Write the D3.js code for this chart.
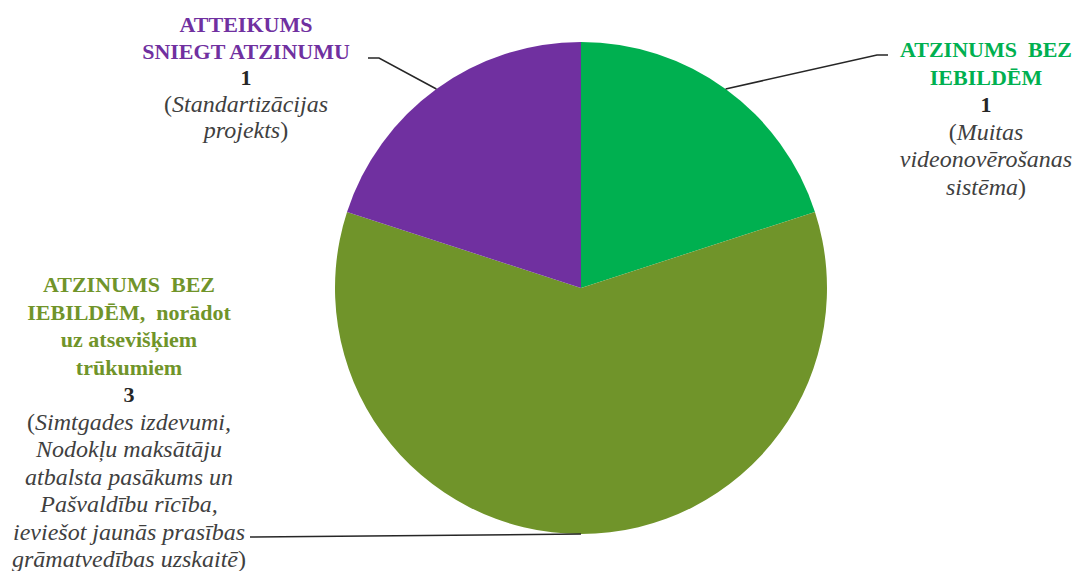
<!DOCTYPE html>
<html>
<head>
<meta charset="utf-8">
<script src="https://cdn.jsdelivr.net/npm/d3@7"></script>
</head>
<body style="margin:0">
<svg width="1077" height="571"></svg>
<script>
// categories, values and label text
var categories = ["ATZINUMS BEZ IEBILDĒM", "ATZINUMS BEZ IEBILDĒM, norādot uz atsevišķiem trūkumiem", "ATTEIKUMS SNIEGT ATZINUMU"];
var values = [1, 3, 1];
var titleLines = [
  ["ATZINUMS\u00a0 BEZ", "IEBILDĒM"],
  ["ATZINUMS\u00a0 BEZ", "IEBILDĒM,\u00a0 norādot", "uz atsevišķiem", "trūkumiem"],
  ["ATTEIKUMS", "SNIEGT ATZINUMU"]
];
var detailLines = [
  ["(Muitas", "videonovērošanas", "sistēma)"],
  ["(Simtgades izdevumi,", "Nodokļu maksātāju", "atbalsta pasākums un", "Pašvaldību rīcība,", "ieviešot jaunās prasības", "grāmatvedības uzskaitē)"],
  ["(Standartizācijas", "projekts)"]
];
var colors = ["#00b050", "#70942a", "#7030a0"];

var svg = d3.select("svg").style("font-family", "'Liberation Serif'");
var cx = 581, cy = 288, radius = 246;

var pie = d3.pie().sort(null).value(function(d) { return d; });
var arc = d3.arc().innerRadius(0).outerRadius(radius);
var arcs = pie(values);

var g = svg.append("g").attr("transform", "translate(" + cx + "," + cy + ")");

g.selectAll("path")
  .data(arcs)
  .enter().append("path")
    .attr("d", arc)
    .attr("fill", function(d, i) { return colors[i]; });

// label layout: text centre x, first baseline y, leader elbow points
var labelPos = [
  { x: 986, y: 57, lh: 27.6, elbow: [[888, 55], [877, 55]] },
  { x: 129, y: 292, lh: 27.5, elbow: [[250, 537]] },
  { x: 246, y: 32, lh: 26.6, elbow: [[368, 58], [379, 58]] }
];

function midAngle(d) { return (d.startAngle + d.endAngle) / 2; }

arcs.forEach(function(d, i) {
  var a = midAngle(d);
  var px = cx + radius * Math.sin(a);
  var py = cy - radius * Math.cos(a);
  var pts = labelPos[i].elbow.concat([[px, py]]);
  svg.append("path")
    .attr("d", d3.line()(pts))
    .attr("fill", "none")
    .attr("stroke", "#262626")
    .attr("stroke-width", 1.5);
});

function addLine(p, y, size) {
  return svg.append("text")
    .style("font-family", "'Liberation Serif'")
    .attr("x", p.x).attr("y", y)
    .attr("text-anchor", "middle")
    .attr("font-size", size);
}

arcs.forEach(function(d, i) {
  var p = labelPos[i];
  var y = p.y;
  titleLines[i].forEach(function(line) {
    addLine(p, y, 22).attr("font-weight", "bold")
      .attr("fill", colors[i]).text(line);
    y += p.lh;
  });
  addLine(p, y, 22).attr("font-weight", "bold")
    .attr("fill", "#262626").text(values[i]);
  y += p.lh;
  detailLines[i].forEach(function(line) {
    var t = addLine(p, y, 24).attr("fill", "#404040");
    // parentheses upright, inner text italic
    var m = line.match(/^(\(?)(.*?)(\)?)$/);
    if (m[1]) t.append("tspan").text(m[1]);
    t.append("tspan").attr("font-style", "italic").text(m[2]);
    if (m[3]) t.append("tspan").text(m[3]);
    y += p.lh;
  });
});
</script>
</body>
</html>
